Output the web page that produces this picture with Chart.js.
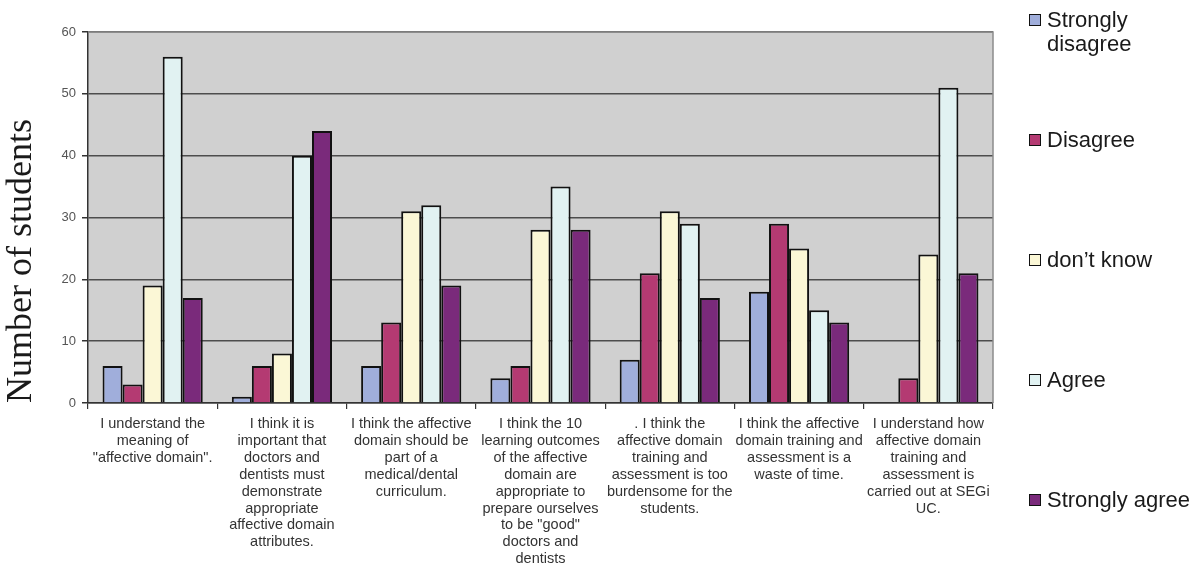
<!DOCTYPE html>
<html>
<head>
<meta charset="utf-8">
<script src="https://cdn.jsdelivr.net/npm/chart.js@4.4.1/dist/chart.umd.min.js"></script>
<style>
  html, body { margin: 0; padding: 0; background: #fff; }
  #wrap { position: relative; width: 1198px; height: 564px; overflow: hidden; }
  #legend { position: absolute; left: 1029px; top: 0; }
  .item { position: absolute; left: 0; width: 170px; font-family: Arial, 'Liberation Sans', sans-serif;
          font-size: 22px; line-height: 24px; color: #1a1a1a; }
  .box { position: absolute; left: 0; top: 6px; width: 10px; height: 10px; border: 1.5px solid #111; }
  .txt { position: absolute; left: 18px; top: 0; width: 150px; }
</style>
</head>
<body>
<div id="wrap">
  <canvas id="surveyChart" width="1198" height="564"></canvas>
  <div id="legend"></div>
</div>
<script>
// 설문 문항 (x축)
var questions = [
  ['I understand the', 'meaning of', '"affective domain".'],
  ['I think it is', 'important that', 'doctors and', 'dentists must', 'demonstrate', 'appropriate', 'affective domain', 'attributes.'],
  ['I think the affective', 'domain should be', 'part of a', 'medical/dental', 'curriculum.'],
  ['I think the 10', 'learning outcomes', 'of the affective', 'domain are', 'appropriate to', 'prepare ourselves', 'to be "good"', 'doctors and', 'dentists'],
  ['. I think the', 'affective domain', 'training and', 'assessment is too', 'burdensome for the', 'students.'],
  ['I think the affective', 'domain training and', 'assessment is a', 'waste of time.'],
  ['I understand how', 'affective domain', 'training and', 'assessment is', 'carried out at SEGi', 'UC.']
];

// 응답 항목별 학생 수
var stronglyDisagree = [6, 1, 6, 4, 7, 18, 0];
var disagree         = [3, 6, 13, 6, 21, 29, 4];
var dontKnow         = [19, 8, 31, 28, 31, 25, 24];
var agree            = [56, 40, 32, 35, 29, 15, 51];
var stronglyAgree    = [17, 44, 19, 28, 17, 13, 21];

var seriesNames  = ['Strongly disagree', 'Disagree', "don\u2019t know", 'Agree', 'Strongly agree'];
var seriesColors = ['#A0AEDB', '#B43A72', '#FBF7D6', '#E1F2F2', '#7A2A7B'];
var seriesValues = [stronglyDisagree, disagree, dontKnow, agree, stronglyAgree];

var yTicks = [0, 10, 20, 30, 40, 50, 60];

// 회색 플롯 배경 + 테두리
var plotBackground = {
  id: 'plotBackground',
  beforeDraw: function(chart) {
    var a = chart.chartArea, c = chart.ctx;
    c.save();
    c.fillStyle = '#D0D0D0';
    c.fillRect(a.left, a.top, a.right - a.left, a.bottom - a.top);
    c.restore();
  },
  afterDraw: function(chart) {
    var a = chart.chartArea, c = chart.ctx;
    c.save();
    c.strokeStyle = '#8c8c8c';
    c.lineWidth = 1.5;
    c.beginPath();
    c.moveTo(a.left, a.top);
    c.lineTo(a.right, a.top);
    c.lineTo(a.right, a.bottom);
    c.stroke();
    c.restore();
  }
};

var datasets = seriesNames.map(function(name, i) {
  return {
    label: name,
    data: seriesValues[i],
    backgroundColor: seriesColors[i],
    borderColor: '#111',
    borderWidth: 2,
    categoryPercentage: 0.775,
    barPercentage: 1.0
  };
});

var ctx = document.getElementById('surveyChart').getContext('2d');
var myChart = new Chart(ctx, {
  type: 'bar',
  data: { labels: questions, datasets: datasets },
  options: {
    responsive: false,
    animation: false,
    layout: { padding: { top: 32, right: 205, left: 0, bottom: 0 } },
    plugins: {
      legend: { display: false },
      tooltip: { enabled: false }
    },
    scales: {
      x: {
        afterFit: function(scale) { scale.height = 161; },
        grid: { display: true, drawOnChartArea: false, drawTicks: true, tickLength: 6, offset: true, color: '#333', lineWidth: 1.2 },
        border: { display: true, color: '#333', width: 1.5 },
        ticks: {
          autoSkip: false, maxRotation: 0, minRotation: 0, padding: 7,
          color: '#333',
          font: { family: "Arial, 'Liberation Sans', sans-serif", size: 14.5, lineHeight: 1.16 }
        }
      },
      y: {
        min: 0, max: 60,
        afterFit: function(scale) { scale.width = 88; },
        afterBuildTicks: function(scale) { scale.ticks = yTicks.map(function(v) { return { value: v }; }); },
        grid: { color: '#4d4d4d', lineWidth: 1.5, tickLength: 6, tickColor: '#333' },
        border: { display: true, color: '#333', width: 1.5 },
        ticks: {
          padding: 6, color: '#555',
          font: { family: "Arial, 'Liberation Sans', sans-serif", size: 13 }
        },
        title: {
          display: true,
          text: 'Number of students',
          align: 'start',
          color: '#1a1a1a',
          padding: { top: 0, bottom: 0 },
          font: { family: "'Liberation Serif', 'Times New Roman', serif", size: 36, weight: 'normal' }
        }
      }
    }
  },
  plugins: [plotBackground]
});

// 범례 (오른쪽, 항목 간격 120px)
var legend = document.getElementById('legend');
seriesNames.forEach(function(name, i) {
  var item = document.createElement('div');
  item.className = 'item';
  item.style.top = (8 + i * 120) + 'px';
  item.innerHTML = '<span class="box" style="background:' + seriesColors[i] + '"></span>' +
                   '<span class="txt">' + name + '</span>';
  legend.appendChild(item);
});
</script>
</body>
</html>
